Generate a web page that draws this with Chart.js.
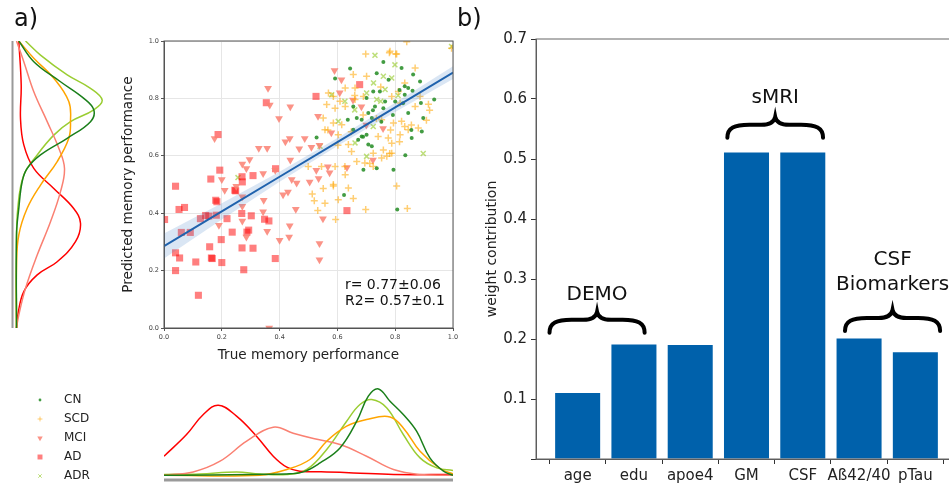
<!DOCTYPE html>
<html>
<head>
<meta charset="utf-8">
<script src="https://cdn.jsdelivr.net/npm/chart.js@4.4.0/dist/chart.umd.min.js"></script>
<style>
  body { margin: 0; width: 949px; height: 485px; overflow: hidden; background: #fff; position: relative; font-family: 'DejaVu Sans', sans-serif; }
  canvas { position: absolute; }
  .panel-label { position: absolute; font-size: 24px; color: #111; line-height: 1; }
</style>
</head>
<body>
<canvas id="kde-left" width="115" height="485" style="left:0;top:0"></canvas>
<canvas id="scatter" width="355" height="340" style="left:115px;top:30px"></canvas>
<canvas id="kde-bottom" width="320" height="105" style="left:150px;top:380px"></canvas>
<canvas id="weights" width="495" height="485" style="left:470px;top:0"></canvas>
<div class="panel-label" style="left:14px;top:6px">a)</div>
<div class="panel-label" style="left:457px;top:6px">b)</div>
<script>
// ---- data: panel a ----
const groups = ['CN', 'SCD', 'MCI', 'AD', 'ADR'];

const cnPoints = [[0.644,0.904],[0.759,0.927],[0.592,0.869],[0.736,0.888],[0.822,0.906],[0.777,0.865],[0.862,0.883],[0.886,0.859],
  [0.724,0.824],[0.747,0.824],[0.833,0.842],[0.845,0.836],[0.86,0.827],[0.701,0.801],[0.765,0.789],[0.8,0.789],[0.833,0.813],
  [0.889,0.784],[0.935,0.796],[0.73,0.772],[0.759,0.766],[0.707,0.749],[0.667,0.732],[0.684,0.726],[0.655,0.772],[0.636,0.726],
  [0.719,0.732],[0.845,0.749],[0.897,0.732],[0.528,0.664],[0.655,0.691],[0.684,0.667],[0.701,0.673],[0.672,0.656],[0.707,0.639],
  [0.719,0.633],[0.857,0.662],[0.892,0.685],[0.736,0.557],[0.794,0.551],[0.69,0.551],[0.623,0.463],[0.807,0.413],[0.835,0.602],
  [0.723,0.759],[0.752,0.719],[0.792,0.742],[0.827,0.783],[0.689,0.666],[0.856,0.69],[0.815,0.829]];

const scdPoints = [[0.84,0.997],[0.782,0.964],[0.805,0.955],[0.995,0.975],[0.869,0.906],[0.655,0.883],[0.701,0.877],[0.627,0.836],
  [0.661,0.836],[0.569,0.819],[0.586,0.807],[0.609,0.79],[0.563,0.779],[0.592,0.766],[0.627,0.772],[0.661,0.796],[0.69,0.807],
  [0.811,0.824],[0.833,0.854],[0.788,0.807],[0.817,0.784],[0.869,0.772],[0.886,0.807],[0.551,0.732],[0.586,0.714],[0.615,0.708],
  [0.557,0.691],[0.603,0.673],[0.753,0.726],[0.794,0.714],[0.822,0.72],[0.833,0.702],[0.817,0.673],[0.845,0.691],[0.88,0.697],
  [0.741,0.667],[0.776,0.662],[0.788,0.644],[0.759,0.62],[0.638,0.639],[0.649,0.615],[0.667,0.58],[0.724,0.609],[0.771,0.598],
  [0.626,0.563],[0.592,0.563],[0.627,0.534],[0.499,0.563],[0.545,0.563],[0.586,0.5],[0.695,0.575],[0.753,0.592],[0.724,0.563],
  [0.788,0.609],[0.513,0.467],[0.551,0.486],[0.586,0.495],[0.52,0.443],[0.557,0.435],[0.603,0.447],[0.638,0.488],[0.655,0.451],
  [0.532,0.409],[0.594,0.378],[0.698,0.413],[0.842,0.416],[0.805,0.495],[0.78,0.959],[0.698,0.955],[0.802,0.955],[0.915,0.78],[0.75,0.84],
  [0.66,0.81],[0.689,0.742],[0.735,0.73],[0.784,0.69],[0.815,0.649],[0.856,0.707],[0.567,0.69],[0.602,0.637],[0.648,0.684],
  [0.712,0.573],[0.781,0.608],[0.919,0.759],[0.908,0.724]];

const mciPoints = [[0.21,0.48],[0.175,0.66],[0.2,0.517],[0.19,0.358],[0.25,0.494],[0.271,0.457],[0.271,0.424],[0.271,0.373],
  [0.285,0.556],[0.296,0.587],[0.285,0.317],[0.328,0.626],[0.343,0.538],[0.345,0.445],[0.343,0.405],[0.357,0.626],[0.357,0.337],
  [0.36,0.835],[0.366,0.777],[0.385,0.55],[0.398,0.73],[0.4,0.306],[0.412,0.464],[0.42,0.649],[0.429,0.474],[0.435,0.66],
  [0.437,0.771],[0.437,0.585],[0.435,0.356],[0.433,0.317],[0.456,0.414],[0.487,0.66],[0.504,0.509],[0.527,0.55],[0.535,0.521],
  [0.538,0.294],[0.538,0.238],[0.538,0.637],[0.55,0.381],[0.567,0.562],[0.573,0.541],[0.579,0.68],[0.59,0.897],[0.608,0.82],
  [0.633,0.559],[0.654,0.794],[0.683,0.771],[0.7,0.707],[0.723,0.585],[0.758,0.695],[0.533,0.738],[0.364,0.0],[0.614,0.865],
  [0.51,0.63],[0.468,0.625],[0.271,0.571],[0.442,0.517],[0.459,0.505]];

const adPoints = [[0.002,0.378],[0.04,0.494],[0.052,0.413],[0.071,0.42],[0.06,0.333],[0.091,0.333],[0.04,0.262],[0.054,0.244],
  [0.04,0.2],[0.11,0.23],[0.119,0.114],[0.126,0.381],[0.144,0.392],[0.155,0.39],[0.158,0.283],[0.162,0.519],[0.164,0.244],
  [0.167,0.242],[0.179,0.445],[0.183,0.44],[0.187,0.674],[0.193,0.55],[0.181,0.393],[0.198,0.308],[0.2,0.228],[0.218,0.381],
  [0.236,0.334],[0.245,0.48],[0.248,0.478],[0.27,0.527],[0.271,0.509],[0.269,0.399],[0.27,0.279],[0.276,0.203],[0.287,0.334],
  [0.293,0.341],[0.302,0.391],[0.308,0.531],[0.308,0.278],[0.348,0.379],[0.354,0.785],[0.363,0.373],[0.385,0.242],[0.386,0.555],
  [0.526,0.807],[0.633,0.409],[0.677,0.848]];

const adrPoints = [[0.73,0.95],[0.799,0.917],[0.759,0.877],[0.725,0.854],[0.788,0.871],[0.701,0.819],[0.765,0.831],[0.58,0.813],
  [0.626,0.79],[0.736,0.796],[0.603,0.72],[0.724,0.702],[0.661,0.645],[0.701,0.598],[0.897,0.608],[0.54,0.633],[0.995,0.981],
  [0.256,0.524],[0.75,0.79],[0.81,0.81],[0.66,0.76]];

const scatterPoints = [cnPoints, scdPoints, mciPoints, adPoints, adrPoints];

// regression line + confidence band
const fitX = [0, 0.2, 0.4, 0.6, 0.8, 1];
const fitY = [0.285, 0.406, 0.527, 0.648, 0.769, 0.89];
const fitUpper = [0.329, 0.435, 0.544, 0.662, 0.785, 0.912];
const fitLower = [0.242, 0.378, 0.51, 0.634, 0.753, 0.868];
const statLines = ['r= 0.77\u00b10.06', 'R2= 0.57\u00b10.1'];

// marginal densities: left = [density, predicted], bottom = [true, density]
const cnLeft  = [[2.3,1],[17.3,0.928],[44,0.858],[67.3,0.8],[77.3,0.76],[74,0.719],[50.7,0.661],[24,0.603],[10.7,0.556],[5.7,0.51],[2.3,0.417],[0,0.324],[0,0]];
const scdLeft = [[2.3,1],[17.3,0.94],[37.3,0.87],[52.3,0.789],[54,0.719],[52.3,0.661],[40.7,0.58],[24,0.498],[10.7,0.417],[2.3,0.324],[0,0.22],[0,0]];
const mciLeft = [[0,1],[7.3,0.928],[17.3,0.823],[30.7,0.719],[42.3,0.626],[48,0.556],[44,0.475],[34,0.37],[20.7,0.254],[9,0.138],[2.3,0.045],[0,0]];
const adLeft  = [[2.3,1],[4.7,0.847],[4,0.73],[7.3,0.638],[17.3,0.556],[37,0.487],[57,0.417],[64,0.365],[59,0.301],[40.7,0.231],[20.7,0.185],[7.3,0.127],[1.3,0.045],[0,0]];
const adrLeft = [[9,1],[24,0.951],[50.7,0.882],[74,0.835],[85.7,0.794],[77.3,0.76],[54,0.719],[37.3,0.672],[20.7,0.603],[7.3,0.533],[1.3,0.417],[0,0.28],[0,0]];
const leftKde = [cnLeft, scdLeft, mciLeft, adLeft, adrLeft];

const cnBottom  = [[0,0],[0.425,1.3],[0.482,3.3],[0.54,12.3],[0.609,27.3],[0.667,54],[0.707,79],[0.742,86.3],[0.782,74],[0.828,60.7],[0.874,44],[0.92,17.3],[0.967,4],[1,0]];
const scdBottom = [[0,0],[0.332,0],[0.425,5.7],[0.505,15.7],[0.563,34],[0.632,49],[0.701,55.7],[0.782,58.3],[0.828,47.3],[0.886,24],[0.955,6.7],[1,1.3]];
const mciBottom = [[0,0],[0.101,3.3],[0.194,14],[0.286,34],[0.378,48],[0.447,42],[0.517,36.7],[0.609,30.7],[0.701,19],[0.794,5.7],[0.886,0.7],[1,0]];
const adBottom  = [[0,19],[0.078,40.7],[0.136,60.7],[0.188,70],[0.251,59],[0.32,39],[0.378,19],[0.425,8],[0.47,4],[0.563,3.3],[0.655,2.3],[0.794,0.7],[1,0.7]];
const adrBottom = [[0,0.7],[0.124,1.3],[0.251,3.3],[0.332,1.3],[0.425,0.7],[0.494,5.7],[0.563,25.7],[0.632,54],[0.678,70.7],[0.719,75.7],[0.771,67.3],[0.828,40.7],[0.886,17.3],[0.944,7.3],[1,4.7]];
const bottomKde = [cnBottom, scdBottom, mciBottom, adBottom, adrBottom];

// ---- data: panel b ----
const features = ['age', 'edu', 'apoe4', 'GM', 'CSF', 'A\u00df42/40', 'pTau'];
const weights = [0.11, 0.191, 0.19, 0.511, 0.511, 0.201, 0.178];
const featureGroups = [
  { lines: ['DEMO'], from: -0.5, to: 1.19, bar: 0.232, label: 0.273 },
  { lines: ['sMRI'], from: 2.66, to: 4.36, bar: 0.557, label: 0.602 },
  { lines: ['CSF', 'Biomarkers'], from: 4.75, to: 6.44, bar: 0.235, label: 0.311 }
];

// ---- styles ----
const FONT = "'DejaVu Sans', sans-serif";
Chart.defaults.font.family = FONT;
Chart.defaults.color = '#222';
Chart.defaults.animation = false;

const groupStyle = {
  CN:  { pointStyle: 'circle',   radius: 2,   rotation: 0,   fill: 'rgba(34,139,34,0.85)',  border: 0,   line: '#1a7f1a' },
  SCD: { pointStyle: 'cross',    radius: 3.5, rotation: 0,   fill: 'rgba(255,165,0,0.55)',  border: 1.5, line: '#ffa500' },
  MCI: { pointStyle: 'triangle', radius: 4.5, rotation: 180, fill: 'rgba(250,128,114,0.85)', border: 0,  line: '#fa8072' },
  AD:  { pointStyle: 'rect',     radius: 5,   rotation: 0,   fill: 'rgba(255,0,0,0.5)',     border: 0,   line: '#ff0000' },
  ADR: { pointStyle: 'crossRot', radius: 3.5, rotation: 0,   fill: 'rgba(154,205,50,0.65)', border: 1.5, line: '#9acd32' }
};

// --- plugins ---
const frameBox = {
  id: 'frameBox',
  afterDatasetsDraw(chart, args, opts) {
    const { ctx, chartArea: a } = chart;
    ctx.save();
    ctx.strokeStyle = opts.color || '#555';
    ctx.lineWidth = opts.width || 1;
    ctx.strokeRect(a.left, a.top, a.right - a.left, a.bottom - a.top);
    ctx.restore();
  }
};

const spine = {
  id: 'spine',
  beforeDatasetsDraw(chart, args, opts) {
    if (!opts.side) return;
    const { ctx, chartArea: a } = chart;
    ctx.save();
    ctx.strokeStyle = '#9a9a9a';
    ctx.lineWidth = opts.width;
    ctx.beginPath();
    if (opts.side === 'left') { ctx.moveTo(a.left, a.top); ctx.lineTo(a.left, a.bottom); }
    else { ctx.moveTo(a.left, a.bottom); ctx.lineTo(a.right, a.bottom); }
    ctx.stroke();
    ctx.restore();
  }
};

const groupLegend = {
  id: 'groupLegend',
  afterDraw(chart, args, opts) {
    if (!opts.show) return;
    const ctx = chart.ctx;
    ctx.save();
    ctx.font = '12px ' + FONT;
    ctx.textBaseline = 'middle';
    groups.forEach((g, i) => {
      const s = groupStyle[g];
      const y = opts.top + i * opts.step;
      ctx.fillStyle = s.fill;
      ctx.strokeStyle = s.fill;
      ctx.lineWidth = 1;
      Chart.helpers.drawPoint(ctx, { pointStyle: s.pointStyle, radius: s.radius * 0.7, rotation: s.rotation, borderWidth: s.border ? 1 : 0 }, opts.markerX, y);
      ctx.fillStyle = '#222';
      ctx.fillText(g, opts.textX, y);
    });
    ctx.restore();
  }
};

const statText = {
  id: 'statText',
  afterDatasetsDraw(chart) {
    const { ctx, scales } = chart;
    ctx.save();
    ctx.font = '14px ' + FONT;
    ctx.fillStyle = '#111';
    ctx.textBaseline = 'middle';
    const x = scales.x.getPixelForValue(0.626);
    statLines.forEach((t, i) => ctx.fillText(t, x, scales.y.getPixelForValue(0.15 - i * 0.058)));
    ctx.restore();
  }
};

function drawBrace(ctx, x0, x1, yBar) {
  const mid = (x0 + x1) / 2, yEnd = yBar + 13, yTip = yBar - 8;
  ctx.beginPath();
  ctx.moveTo(x0, yEnd);
  ctx.bezierCurveTo(x0, yBar + 3, x0 + 7, yBar, x0 + 22, yBar);
  ctx.lineTo(mid - 14, yBar);
  ctx.bezierCurveTo(mid - 5, yBar, mid - 1, yBar - 3, mid, yTip);
  ctx.bezierCurveTo(mid + 1, yBar - 3, mid + 5, yBar, mid + 14, yBar);
  ctx.lineTo(x1 - 22, yBar);
  ctx.bezierCurveTo(x1 - 7, yBar, x1, yBar + 3, x1, yEnd);
  ctx.stroke();
}

const braces = {
  id: 'braces',
  afterDatasetsDraw(chart) {
    const { ctx, scales: { x, y } } = chart;
    ctx.save();
    ctx.strokeStyle = '#000';
    ctx.lineWidth = 4;
    ctx.lineCap = 'round';
    ctx.fillStyle = '#111';
    ctx.font = '20px ' + FONT;
    ctx.textAlign = 'center';
    ctx.textBaseline = 'middle';
    featureGroups.forEach(g => {
      const x0 = x.getPixelForValue(g.from), x1 = x.getPixelForValue(g.to);
      drawBrace(ctx, x0, x1, y.getPixelForValue(g.bar));
      const cy = y.getPixelForValue(g.label);
      const n = g.lines.length;
      g.lines.forEach((t, i) => ctx.fillText(t, (x0 + x1) / 2, cy + (i - (n - 1) / 2) * 25));
    });
    ctx.restore();
  }
};

const fixWidth = w => scale => { scale.width = w; };
const fixHeight = h => scale => { scale.height = h; };

// --- left marginal density (+ legend) ---
new Chart(document.getElementById('kde-left'), {
  type: 'scatter',
  data: {
    datasets: groups.map((g, i) => ({
      label: g,
      data: leftKde[i].map(([d, v]) => ({ x: d, y: v })),
      showLine: true, borderColor: groupStyle[g].line, borderWidth: 1.5,
      pointRadius: 0, tension: 0.4, fill: false
    }))
  },
  options: {
    responsive: false,
    layout: { padding: { left: 12.5, right: 2.5, top: 41, bottom: 157 } },
    scales: {
      x: { display: false, min: -4, max: 96 },
      y: { display: false, min: 0, max: 1 }
    },
    plugins: {
      legend: { display: false }, tooltip: { enabled: false },
      spine: { side: 'left', width: 2 },
      groupLegend: { show: true, top: 400, step: 19, markerX: 40, textX: 64 }
    }
  },
  plugins: [spine, groupLegend]
});

// --- scatter: true vs predicted ---
const tickFont = { size: 6.5 };
new Chart(document.getElementById('scatter'), {
  type: 'scatter',
  data: {
    datasets: [
      { data: fitX.map((x, i) => ({ x, y: fitY[i] })), showLine: true, borderColor: '#1f62ad', borderWidth: 2, pointRadius: 0 },
      { data: fitX.map((x, i) => ({ x, y: fitUpper[i] })), showLine: true, borderWidth: 0, pointRadius: 0, fill: '+1', backgroundColor: 'rgba(70,130,200,0.2)' },
      { data: fitX.map((x, i) => ({ x, y: fitLower[i] })), showLine: true, borderWidth: 0, pointRadius: 0 },
      ...groups.map((g, i) => {
        const s = groupStyle[g];
        return {
          label: g,
          data: scatterPoints[i].map(([x, y]) => ({ x, y })),
          pointStyle: s.pointStyle, pointRadius: s.radius, pointRotation: s.rotation,
          backgroundColor: s.fill, borderColor: s.fill, borderWidth: s.border
        };
      })
    ]
  },
  options: {
    responsive: false,
    layout: { padding: { top: 11, right: 17 } },
    scales: {
      x: {
        min: 0, max: 1,
        ticks: { stepSize: 0.2, font: tickFont, color: '#444', padding: 2, callback: v => v.toFixed(1) },
        grid: { color: '#e6e6e6', tickColor: '#555', tickLength: 3 },
        border: { color: '#555' },
        title: { display: true, text: 'True memory performance', font: { size: 13.6 }, color: '#222', padding: { top: 0, bottom: 6 } },
        afterFit: fixHeight(42)
      },
      y: {
        min: 0, max: 1,
        ticks: { stepSize: 0.2, font: tickFont, color: '#444', padding: 2, callback: v => v.toFixed(1) },
        grid: { color: '#e6e6e6', tickColor: '#555', tickLength: 3 },
        border: { color: '#555' },
        title: { display: true, text: 'Predicted memory performance', font: { size: 13.6 }, color: '#222', padding: { top: 5, bottom: 0 } },
        afterFit: fixWidth(49)
      }
    },
    plugins: { legend: { display: false }, tooltip: { enabled: false }, frameBox: { color: '#555', width: 1 } }
  },
  plugins: [frameBox, statText]
});

// --- bottom marginal density ---
new Chart(document.getElementById('kde-bottom'), {
  type: 'scatter',
  data: {
    datasets: groups.map((g, i) => ({
      label: g,
      data: bottomKde[i].map(([v, d]) => ({ x: v, y: d })),
      showLine: true, borderColor: groupStyle[g].line, borderWidth: 1.5,
      pointRadius: 0, tension: 0.4, fill: false
    }))
  },
  options: {
    responsive: false,
    layout: { padding: { left: 14, right: 17, top: 0, bottom: 5 } },
    scales: {
      x: { display: false, min: 0, max: 1 },
      y: { display: false, min: -4.8, max: 95.2 }
    },
    plugins: { legend: { display: false }, tooltip: { enabled: false }, spine: { side: 'bottom', width: 3 } }
  },
  plugins: [spine]
});

// --- panel b: weight contribution bars ---
new Chart(document.getElementById('weights'), {
  type: 'bar',
  data: {
    datasets: [{
      data: features.map((f, i) => ({ x: i, y: weights[i] })),
      backgroundColor: '#0061ab',
      barPercentage: 0.8, categoryPercentage: 1
    }]
  },
  options: {
    responsive: false,
    layout: { padding: { top: 39, right: 8 } },
    scales: {
      x: {
        type: 'linear', min: -0.74, max: 6.74, offset: false,
        afterBuildTicks: scale => { scale.ticks = features.map((f, i) => ({ value: i })); },
        ticks: { font: { size: 15 }, color: '#222', padding: 3, maxRotation: 0, autoSkip: false, callback: v => features[v] },
        grid: { drawOnChartArea: false, tickColor: '#333', tickLength: 5 },
        border: { color: '#555' },
        afterFit: fixHeight(26)
      },
      y: {
        min: 0, max: 0.7,
        ticks: { stepSize: 0.1, font: { size: 15 }, color: '#222', padding: 4, callback: v => v < 0.05 ? '' : v.toFixed(1) },
        grid: { drawOnChartArea: false, tickColor: '#333', tickLength: 5 },
        border: { color: '#555' },
        title: { display: true, text: 'weight contribution', font: { size: 14 }, color: '#222', padding: { top: 14, bottom: 0 } },
        afterFit: fixWidth(66)
      }
    },
    plugins: { legend: { display: false }, tooltip: { enabled: false }, frameBox: { color: '#666', width: 1 } }
  },
  plugins: [frameBox, braces]
});
</script>
</body>
</html>
